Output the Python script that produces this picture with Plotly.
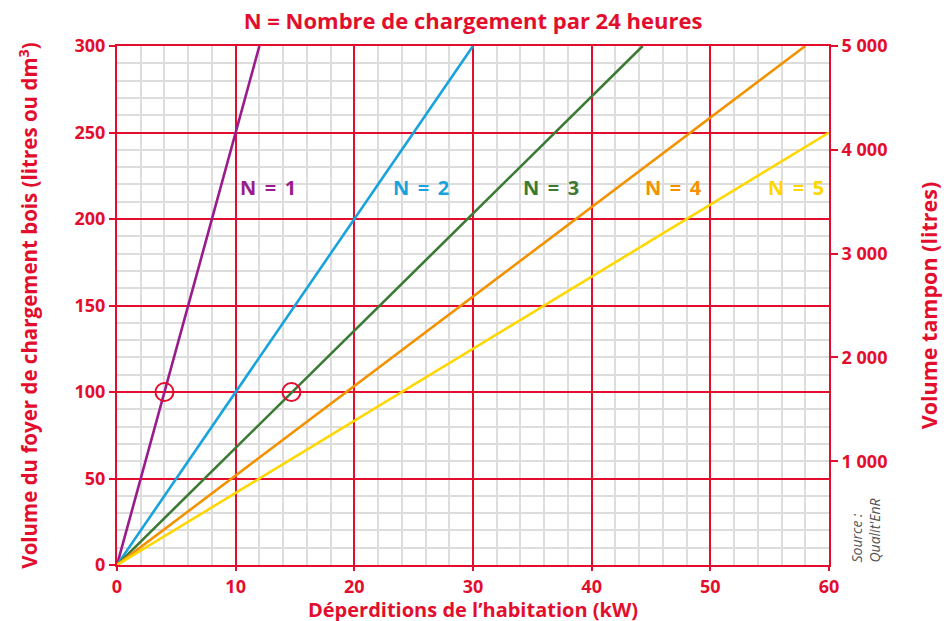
import plotly.graph_objects as go

RED = "#E30E2D"
FONT = "Open Sans"

series_names = ["N = 1", "N = 2", "N = 3", "N = 4", "N = 5"]
series_colors = ["#9A1C8C", "#19A3DD", "#3B7A34", "#F39200", "#FFD700"]
line_x = [[0, 12.0], [0, 30.0], [0, 44.3], [0, 58.0], [0, 60.0]]
line_y = [[0, 300], [0, 300], [0, 300], [0, 300], [0, 250]]
label_x = [12.7, 25.6, 36.6, 46.9, 57.2]
label_y = [218, 218, 218, 218, 218]
circle_x = [4.0, 14.7]
circle_y = [100, 100]
x_ticks = [0, 10, 20, 30, 40, 50, 60]
y_ticks = [0, 50, 100, 150, 200, 250, 300]
y2_ticks = [1000, 2000, 3000, 4000, 5000]
y2_labels = ["1 000", "2 000", "3 000", "4 000", "5 000"]

fig = go.Figure()
for name, col, xs, ys in zip(series_names, series_colors, line_x, line_y):
    fig.add_trace(go.Scatter(x=xs, y=ys, mode="lines", line=dict(color=col, width=2.6),
                             showlegend=False, hoverinfo="skip", name=name))

fig.add_trace(go.Scatter(x=circle_x, y=circle_y, mode="markers",
                         marker=dict(symbol="circle-open", size=18, color=RED, line=dict(width=2, color=RED)),
                         showlegend=False, hoverinfo="skip"))

# invisible trace for secondary axis
fig.add_trace(go.Scatter(x=[0], y=[0], yaxis="y2", mode="markers", marker=dict(opacity=0),
                         showlegend=False, hoverinfo="skip"))

for name, col, lx, ly in zip(series_names, series_colors, label_x, label_y):
    fig.add_annotation(x=lx, y=ly, text="<b>" + name.replace(" ", "\u2009 ") + "</b>", showarrow=False,
                       font=dict(color=col, size=20, family=FONT))

fig.add_annotation(xref="paper", yref="paper", x=1.0, y=0, xshift=15, text="Source :<br>Qualit'EnR",
                   textangle=-90, showarrow=False, align="left", xanchor="left", yanchor="bottom",
                   font=dict(color="#555555", size=14, family=FONT, style="italic"))

# x-axis title as annotation for precise placement
fig.add_annotation(xref="paper", yref="paper", x=0.5, y=0, yshift=-44, xanchor="center", yanchor="middle",
                   text="<b>Déperditions de l’habitation (kW)</b>", showarrow=False,
                   font=dict(color=RED, size=20, family=FONT))

fig.update_layout(
    width=944, height=621,
    margin=dict(l=117, r=115, t=46, b=56, autoexpand=False),
    paper_bgcolor="white", plot_bgcolor="white",
    title=dict(text="<b>N = Nombre de chargement par 24 heures</b>", x=(117 + 829) / 2 / 944,
               xanchor="center", y=1 - 21 / 621, yanchor="middle", automargin=False,
               font=dict(color=RED, size=22, family=FONT)),
    font=dict(family=FONT, color=RED),
    xaxis=dict(range=[0, 60], tickvals=x_ticks, showgrid=True, gridcolor=RED, gridwidth=2,
               zeroline=False, showline=True, linecolor=RED, linewidth=2, mirror=True,
               ticks="outside", ticklen=4, tickwidth=2, tickcolor=RED, automargin=False,
               tickfont=dict(color=RED, size=18, family=FONT, weight="bold"),
               minor=dict(dtick=2, showgrid=True, gridcolor="#DDDDDD", gridwidth=1.5)),
    yaxis=dict(range=[0, 300], tickvals=y_ticks, showgrid=True, gridcolor=RED, gridwidth=2,
               zeroline=False, showline=True, linecolor=RED, linewidth=2, mirror=True,
               ticks="outside", ticklen=6, tickwidth=2, tickcolor=RED, automargin=False,
               tickfont=dict(color=RED, size=18, family=FONT, weight="bold"),
               minor=dict(dtick=10, showgrid=True, gridcolor="#DDDDDD", gridwidth=1.5),
               title=dict(text="<b>Volume du foyer de chargement bois (litres ou dm<sup>3</sup>)</b>",
                          standoff=31, font=dict(color=RED, size=20.5, family=FONT))),
    yaxis2=dict(range=[0, 5000], overlaying="y", side="right", tickvals=y2_ticks, ticktext=y2_labels,
                showgrid=False, zeroline=False, showline=False, automargin=False,
                ticks="outside", ticklen=8, tickwidth=2, tickcolor=RED,
                tickfont=dict(color=RED, size=18, family=FONT, weight="bold"),
                title=dict(text="<b>Volume tampon (litres)</b>", standoff=35,
                           font=dict(color=RED, size=21.5, family=FONT))),
)

fig.write_html("out.html", post_script="document.body.style.margin='0';",
               config={"displayModeBar": False})
